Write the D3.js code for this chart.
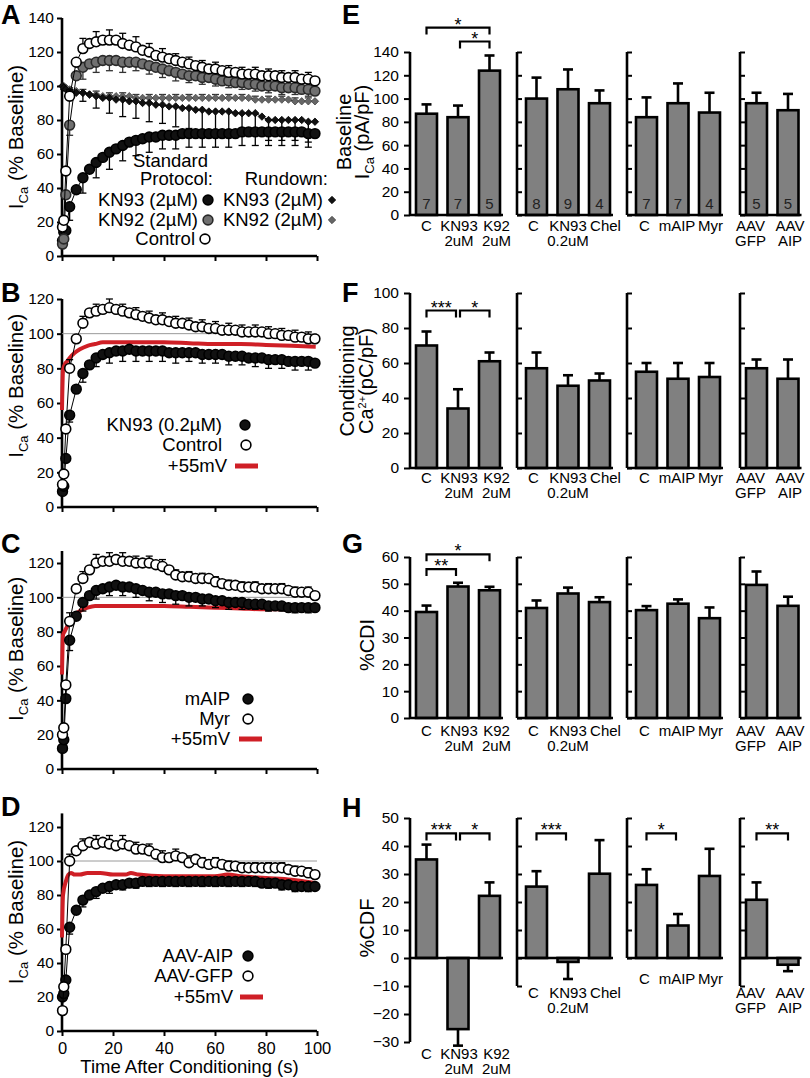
<!DOCTYPE html>
<html><head><meta charset="utf-8">
<script src="https://cdn.jsdelivr.net/npm/d3@7"></script>
<style>body{margin:0;background:#fff}svg text{font-family:"Liberation Sans",Arial,Helvetica,sans-serif}</style>
</head><body><svg id="c" width="810" height="1078"></svg>
<script>
// ---------------- DATA ----------------
const T = [0.2,0.7,1.5,3.0,5.6,8.2,10.8,13.4,16.0,18.6,21.2,23.8,26.4,29.0,31.6,34.2,36.8,39.4,42.0,44.6,47.2,49.8,52.4,55.0,57.6,60.2,62.8,65.4,68.0,70.6,73.2,75.8,78.4,81.0,83.6,86.2,88.8,91.4,94.0,96.6,99.2];
const xTicks = [0,20,40,60,80,100];
const aTicks = [0,20,40,60,80,100,120,140];
const bcdTicks = [0,20,40,60,80,100,120];

// Panel A
const aControl = [17,21,50,94,114,122,125,126,127,127,127,125,124,123,121,120,118,117,116,115,114,113,112,111,110,110,109,108,108,107,107,107,106,106,106,105,105,105,104,104,103];
const aControlErr = [2,2,3,4,5,6,6,6,7,6,7,6,6,6,5,5,5,5,5,4,4,4,4,4,4,4,4,4,4,4,4,4,4,4,4,4,4,4,4,4,4];
const aKN92 = [7,10,36,77,106,111,113,114,115,115,115,114,114,114,113,112,111,110,109,108,107,106,106,105,105,104,103,103,102,102,101,101,100,100,100,99,99,99,98,98,97];
const aKN92Err = [2,2,4,6,7,7,6,6,6,6,6,6,6,5,5,5,5,5,5,5,4,4,4,4,4,4,4,4,4,4,4,4,4,4,4,4,4,4,4,4,4];
const aKN93 = [9,14,15,29,39,46,51,55,58,61,63,65,67,68,69,70,70,71,71,71,72,72,72,72,72,72,72,72,72,73,73,73,73,73,73,73,73,73,73,72,72];
const aKN93Err = [3,4,5,8,9,9,9,9,10,10,10,9,9,9,9,9,9,8,8,8,8,8,8,8,8,8,8,8,8,8,8,8,8,8,8,8,8,8,8,8,8];
const aRunKN93 = [100,99,98,97,96,96,95,94,93,93,92,92,91,91,90,90,89,89,88,88,87,87,86,86,85,85,85,85,84,84,84,84,82,80,80,80,80,80,80,79,79];
const aRunKN93Err = [0,1,2,3,4,5,6,7,8,9,9,10,10,10,11,11,11,11,12,12,12,12,12,12,12,12,12,12,12,12,12,12,12,12,12,12,12,12,12,12,12];
const aRunKN92 = [100,100,99,98,97,96,95,95,94,94,94,94,94,93,93,93,93,93,93,93,93,93,93,93,93,93,93,93,93,93,93,92,92,92,92,92,92,91,91,91,91];
const aRunKN92Err = [0,0,1,1,2,2,2,2,2,2,2,2,2,2,2,2,2,2,2,2,2,2,2,2,2,2,2,2,2,2,2,2,2,2,2,2,2,2,2,2,2];

// Red +55mV traces
const redT = [0,0.4,1,2,3,5,7,10,13,16,20,25,30,40,50,60,70,80,90,99.5];
const bRed = [56,79,82,84,86,89,91,93,94,95,95,95,95,95,94.5,94,94,93.5,93,92.5];
const cRed = [55,78,80,83,86,90,92,94,95,95,95,95,95,95,94.5,94,93.5,93,93,93];
const dRedT = [0,0.4,1.5,2.5,3.5,5,7,10,15,20,25,27,30,40,50,60,65,70,80,90,99.5];
const dRed = [55,80,88,92,93,92,92,93,93,92,92,93,92,91,91,91,92,91,90,89,87];

// Panel B
const bControl = [13,19,45,80,97,106,112,113,114,115,114,113,112,111,110,109,108,108,107,106,106,105,104,104,103,103,102,102,102,101,101,101,101,100,100,99,99,98,98,97,97];
const bControlErr = [2,2,3,5,5,4,4,4,5,5,4,4,4,4,4,4,4,4,4,4,4,4,4,4,4,4,4,4,4,4,4,4,4,4,4,4,4,4,4,4,3];
const bKN93 = [9,12,28,53,68,77,82,86,88,89,90,90,91,90,90,90,90,90,89,89,89,89,89,88,88,88,88,87,87,87,86,86,86,85,85,85,84,84,84,84,83];
const bKN93Err = [1,2,3,4,5,5,5,5,6,6,6,6,6,6,6,6,6,6,6,6,6,5,5,5,5,5,5,5,5,5,5,5,5,5,5,5,5,5,5,5,4];

// Panel C
const cMyr = [20,24,49,86,105,111,116,120,121,121,122,121,121,120,120,120,119,118,116,113,112,112,111,111,111,109,108,107,107,106,106,106,105,105,105,105,104,103,103,103,101];
const cMyrErr = [2,2,3,5,5,4,4,5,5,5,5,5,5,4,4,4,4,4,4,3,3,3,3,3,3,3,3,3,3,3,3,3,3,3,3,3,3,3,3,3,3];
const cMAIP = [12,17,41,75,89,97,101,104,105,106,107,106,106,105,104,103,103,102,102,101,101,100,100,99,99,98,98,97,97,97,96,96,96,95,95,95,94,94,94,94,94];
const cMAIPErr = [2,3,4,6,6,5,5,5,5,5,5,5,5,5,5,5,5,5,5,5,5,5,4,4,4,4,4,4,4,4,3,3,3,3,3,3,3,3,3,3,3];

// Panel D
const dGFP = [12,26,48,100,106,109,111,110,111,110,109,110,109,107,107,106,104,102,102,103,102,99,101,99,98,99,98,97,97,96,96,96,96,96,96,96,95,94,94,93,92];
const dGFPErr = [2,2,3,4,4,4,5,5,5,5,5,5,5,4,4,4,4,4,4,4,4,4,3,3,3,3,3,3,3,3,3,3,3,3,3,3,3,3,3,3,3];
const dAIP = [20,22,30,61,71,77,80,82,84,85,86,86,87,87,88,88,88,88,88,88,88,88,88,88,88,88,88,88,88,88,88,88,87,87,87,86,86,85,85,85,85];
const dAIPErr = [2,2,3,4,4,4,4,4,4,4,3,3,3,3,3,3,3,3,3,3,3,3,3,3,3,3,3,3,3,3,3,3,3,3,3,3,3,3,3,3,4];

// Bar panels
const barCats = [[["C"],["KN93","2uM"],["K92","2uM"]],[["C"],["KN93","0.2uM"],["Chel"]],[["C"],["mAIP"],["Myr"]],[["AAV","GFP"],["AAV","AIP"]]];
const eMean = [[87,84,124],[100,108,96],[84,96,88],[96,90]];
const eErr  = [[8,10,13],[18,17,11],[17,17,17],[9,14]];
const eN    = [[7,7,5],[8,9,4],[7,7,4],[5,5]];
const fMean = [[70,34,61],[57,47,50],[55,51,52],[57,51]];
const fErr  = [[8,11,5],[9,6,4],[5,9,8],[5,11]];
const gMean = [[39.5,49,47.6],[41,46.4,43.2],[40.2,42.6,37.2],[49.6,41.8]];
const gErr  = [[2.4,1.4,1.3],[2.8,2.2,1.8],[1.5,1.6,4],[5,3.4]];
const hMean = [[35.2,-25.4,22.2],[25.5,-1.4,30.1],[26.1,11.6,29.3],[20.8,-2.4]];
const hErr  = [[5.3,5.9,4.8],[5.5,6.1,12],[5.6,4.1,9.7],[6.2,2.3]];
const eTicks = [0,20,40,60,80,100,120,140];
const fTicks = [0,20,40,60,80,100];
const gTicks = [0,10,20,30,40,50,60];
const hTicks = [-30,-20,-10,0,10,20,30,40,50];
const hAxisMin = [-30,-10,0,-10];
const eSig = [{s:0,a:0,b:2,v:161,t:"*"},{s:0,a:1,b:2,v:149,t:"*"}];
const fSig = [{s:0,a:0,b:1,v:90,t:"***"},{s:0,a:1,b:2,v:90,t:"*"}];
const gSig = [{s:0,a:0,b:2,v:61,t:"*"},{s:0,a:0,b:1,v:55.5,t:"**"}];
const hSig = [{s:0,a:0,b:1,v:44.5,t:"***"},{s:0,a:1,b:2,v:44.5,t:"*"},{s:1,a:0,b:1,v:44.5,t:"***"},{s:2,a:0,b:1,v:44.5,t:"*"},{s:3,a:0,b:1,v:44.5,t:"**"}];

// ---------------- DRAW ----------------
const svg = d3.select("#c");
const RED = "#cf1f26", GRAYF = "#707070", BARF = "#808080";
svg.append("rect").attr("width",810).attr("height",1078).attr("fill","#fff");
const x = d3.scaleLinear().domain([0,100]).range([62,317]);

function letter(t, lx, ly){ svg.append("text").attr("x",lx).attr("y",ly).attr("font-size",27).attr("font-weight","bold").text(t); }

function marker(g, type, cx, cy){
  if (type==="open"||type==="black"||type==="gray"){
    g.append("circle").attr("cx",cx).attr("cy",cy).attr("r",4.9)
      .attr("fill", type==="open"?"#fff":type==="black"?"#111":GRAYF)
      .attr("stroke", type==="gray"?"#2a2a2a":"#000").attr("stroke-width",1.6);
  } else {
    const r = 3.7;
    g.append("path").attr("d",`M${cx},${cy-r}L${cx+r},${cy}L${cx},${cy+r}L${cx-r},${cy}Z`)
      .attr("fill", type==="dblack"?"#111":"#666").attr("stroke", type==="dblack"?"#000":"#444").attr("stroke-width",0.8);
  }
}

function drawSeries(g, y, s){
  const pts = s.t.map((t,i)=>[t,s.v[i],s.e[i]]);
  g.append("path").datum(pts).attr("d", d3.line().x(d=>x(d[0])).y(d=>y(d[1])))
    .attr("fill","none").attr("stroke","#000").attr("stroke-width",1);
  const eg = g.append("g").attr("stroke", s.type==="gray"||s.type==="dgray"?"#333":"#000").attr("stroke-width",1.3);
  pts.forEach((d,i)=>{
    if (i%2!==1 || !d[2]) return;
    const y1 = y(d[1]), y2 = y(d[1] + s.dir*d[2]), cx = x(d[0]);
    eg.append("line").attr("x1",cx).attr("x2",cx).attr("y1",y1).attr("y2",y2);
    eg.append("line").attr("x1",cx-3.5).attr("x2",cx+3.5).attr("y1",y2).attr("y2",y2);
  });
  const mg = g.append("g");
  pts.forEach(d=>marker(mg, s.type, x(d[0]), y(d[1])));
}

function timePanel(cfg){
  const y = d3.scaleLinear().domain([0,cfg.ymax]).range([cfg.y0, cfg.yTop]);
  const g = svg.append("g");
  const ya = g.append("g").attr("transform",`translate(${x(0)},0)`)
    .call(d3.axisLeft(y).tickValues(cfg.ticks).tickSize(5).tickPadding(3).tickSizeOuter(0));
  ya.select(".domain").remove();
  ya.selectAll(".tick line").attr("stroke-width",2);
  ya.selectAll(".tick text").attr("font-size",15.5).attr("fill","#000");
  ya.append("line").attr("y1",y(0)).attr("y2",y(cfg.axisTop)).attr("stroke","#000").attr("stroke-width",2.6);
  const xAxis = d3.axisBottom(x).tickValues(xTicks).tickSize(5).tickPadding(6).tickSizeOuter(0);
  if (!cfg.xlabels) xAxis.tickFormat(()=>"");
  const xa = g.append("g").attr("transform",`translate(0,${y(0)})`).call(xAxis);
  xa.select(".domain").remove();
  xa.selectAll(".tick line").attr("stroke-width",2);
  if (cfg.xlabels) xa.selectAll(".tick text").attr("font-size",16.5).attr("fill","#000");
  else xa.selectAll(".tick text").remove();
  xa.append("line").attr("x1",x(0)).attr("x2",x(100)).attr("stroke","#000").attr("stroke-width",2.6);
  if (cfg.xlabels) g.append("text").attr("x",(x(0)+x(100))/2).attr("y",y(0)+42).attr("text-anchor","middle").attr("font-size",18.5).text("Time After Conditioning (s)");
  const t = g.append("text").attr("transform",`translate(23,${y(70)}) rotate(-90)`).attr("text-anchor","middle").attr("font-size",20.5);
  t.append("tspan").text("I");
  t.append("tspan").attr("font-size",13).attr("dy",5).text("Ca");
  t.append("tspan").attr("dy",-5).text(" (% Baseline)");
  if (cfg.ref) g.append("line").attr("x1",x(0)).attr("x2",x(100)).attr("y1",y(100)).attr("y2",y(100)).attr("stroke","#9a9a9a").attr("stroke-width",1);
  if (cfg.red) g.append("path").datum(cfg.red.t.map((tt,i)=>[tt,cfg.red.v[i]]))
    .attr("d", d3.line().x(d=>x(d[0])).y(d=>y(d[1])).curve(d3.curveMonotoneX))
    .attr("fill","none").attr("stroke",RED).attr("stroke-width",4);
  cfg.series.forEach(s=>drawSeries(g,y,s));
  cfg.legend.forEach(l=>{
    g.append("text").attr("x",l.x).attr("y",l.y+6.5).attr("text-anchor","end").attr("font-size",18.5).text(l.text);
    if (l.type==="red") g.append("line").attr("x1",l.mx-11).attr("x2",l.mx+12).attr("y1",l.y+1).attr("y2",l.y+1).attr("stroke",RED).attr("stroke-width",5);
    else if (l.type) marker(g, l.type, l.mx, l.y+1);
  });
}

timePanel({ymax:140, y0:256, yTop:18, axisTop:140, ticks:aTicks, series:[
  {t:T,v:aRunKN92,e:aRunKN92Err,dir:1,type:"dgray"},
  {t:T,v:aRunKN93,e:aRunKN93Err,dir:-1,type:"dblack"},
  {t:T,v:aKN93,e:aKN93Err,dir:-1,type:"black"},
  {t:T,v:aKN92,e:aKN92Err,dir:-1,type:"gray"},
  {t:T,v:aControl,e:aControlErr,dir:1,type:"open"}],
  legend:[
   {text:"Standard",x:208,y:160},{text:"Protocol:",x:213,y:178},
   {text:"KN93 (2µM)",x:198,y:199,type:"black",mx:208},
   {text:"KN92 (2µM)",x:198,y:219,type:"gray",mx:208},
   {text:"Control",x:195,y:238,type:"open",mx:205},
   {text:"Rundown:",x:328,y:178},
   {text:"KN93 (2µM)",x:323,y:199,type:"dblack",mx:332},
   {text:"KN92 (2µM)",x:323,y:219,type:"dgray",mx:332}]});
timePanel({ymax:120, y0:507, yTop:299, axisTop:120, ticks:bcdTicks, ref:true, red:{t:redT,v:bRed}, series:[
  {t:T,v:bKN93,e:bKN93Err,dir:-1,type:"black"},
  {t:T,v:bControl,e:bControlErr,dir:1,type:"open"}],
  legend:[{text:"KN93 (0.2µM)",x:222,y:424,type:"black",mx:245},
          {text:"Control",x:222,y:444,type:"open",mx:246},
          {text:"+55mV",x:227,y:465,type:"red",mx:246}]});
timePanel({ymax:120, y0:769, yTop:563, axisTop:127, ticks:bcdTicks, ref:true, red:{t:redT,v:cRed}, series:[
  {t:T,v:cMAIP,e:cMAIPErr,dir:-1,type:"black"},
  {t:T,v:cMyr,e:cMyrErr,dir:1,type:"open"}],
  legend:[{text:"mAIP",x:230,y:698,type:"black",mx:248},
          {text:"Myr",x:230,y:718,type:"open",mx:248},
          {text:"+55mV",x:230,y:738,type:"red",mx:250}]});
timePanel({ymax:120, y0:1031, yTop:827, axisTop:128, ticks:bcdTicks, ref:true, xlabels:true, red:{t:dRedT,v:dRed}, series:[
  {t:T,v:dAIP,e:dAIPErr,dir:-1,type:"black"},
  {t:T,v:dGFP,e:dGFPErr,dir:1,type:"open"}],
  legend:[{text:"AAV-AIP",x:233,y:955,type:"black",mx:248},
          {text:"AAV-GFP",x:233,y:975,type:"open",mx:248},
          {text:"+55mV",x:233,y:996,type:"red",mx:251}]});

letter("A",1,24); letter("B",1,302); letter("C",1,553); letter("D",1,816);
letter("E",342,24); letter("F",342,302); letter("G",342,553); letter("H",342,817);

// ---- bar rows ----
const subAxisX = [410,517,627,740];
const subOff = [0.75,3.75,3.75,0.75];
const labelDx = [[0,1,7],[-3,0,6],[-2,-1,1],[-6,2]];

function barRow(cfg){
  const y = d3.scaleLinear().domain(cfg.domain).range(cfg.range);
  const g = svg.append("g");
  cfg.mean.forEach((vals, si)=>{
    const ax = subAxisX[si], n = vals.length;
    const xb = d3.scaleBand().domain(d3.range(n)).range([ax+subOff[si], ax+subOff[si]+n*31.5]).paddingInner(1/3).paddingOuter(1/6);
    const bw = xb.bandwidth(), cx = i=>xb(i)+bw/2;
    const amin = cfg.axisMin ? cfg.axisMin[si] : cfg.domain[0];
    const amax = cfg.domain[1];
    const tv = cfg.ticks.filter(v=>v>=amin && v<=amax);
    const axis = si===0 ? d3.axisLeft(y).tickValues(tv).tickSize(6).tickPadding(5).tickSizeOuter(0)
                        : d3.axisRight(y).tickValues(tv).tickSize(5).tickFormat(()=>"").tickSizeOuter(0);
    const ag = g.append("g").attr("transform",`translate(${ax},0)`).call(axis);
    ag.select(".domain").remove();
    ag.selectAll(".tick line").attr("stroke-width",2);
    if (si===0) ag.selectAll(".tick text").attr("font-size",15.5).attr("fill","#000");
    else ag.selectAll(".tick text").remove();
    ag.append("line").attr("y1",y(amin)).attr("y2",y(amax)).attr("stroke","#000").attr("stroke-width",2.6);
    vals.forEach((v,i)=>{
      const e = cfg.err[si][i], dir = v>=0?1:-1;
      const y1 = y(v), y2 = y(v+dir*e);
      g.append("line").attr("x1",cx(i)).attr("x2",cx(i)).attr("y1",y1).attr("y2",y2).attr("stroke","#000").attr("stroke-width",2.6);
      g.append("line").attr("x1",cx(i)-5).attr("x2",cx(i)+5).attr("y1",y2).attr("y2",y2).attr("stroke","#000").attr("stroke-width",2.6);
    });
    g.selectAll(null).data(vals).join("rect")
      .attr("x",(d,i)=>xb(i)).attr("width",bw)
      .attr("y",d=>Math.min(y(d),y(0))).attr("height",d=>Math.abs(y(d)-y(0)))
      .attr("fill",BARF).attr("stroke","#000").attr("stroke-width",2.6);
    g.append("line").attr("x1",ax).attr("x2",xb(n-1)+bw+3).attr("y1",y(0)).attr("y2",y(0)).attr("stroke","#000").attr("stroke-width",2.6);
    if (cfg.n) cfg.n[si].forEach((nn,i)=>g.append("text").attr("x",cx(i)).attr("y",y(0)-6).attr("text-anchor","middle").attr("font-size",15).attr("fill","#222").text(nn));
    barCats[si].forEach((lines,i)=>{
      const lx = cx(i)+labelDx[si][i];
      const tx = g.append("text").attr("x",lx).attr("y",cfg.labelY[si]).attr("text-anchor","middle").attr("font-size",15);
      lines.forEach((ln,j)=>tx.append("tspan").attr("x",lx).attr("dy",j===0?0:14.5).text(ln));
    });
    cfg.sig.filter(s=>s.s===si).forEach(s=>{
      const x1 = cx(s.a)+(s.a>0?2:0), x2 = cx(s.b)-(s.b<n-1?2:0), yb = y(s.v);
      g.append("path").attr("d",`M${x1},${yb+7}V${yb}H${x2}V${yb+7}`).attr("fill","none").attr("stroke","#000").attr("stroke-width",2.2);
      g.append("text").attr("x",(x1+x2)/2).attr("y",yb+3).attr("text-anchor","middle").attr("font-size",18).text(s.t);
    });
  });
  cfg.ylabel(g);
}

function rotText(g, tx, ty, parts, size){
  const t = g.append("text").attr("transform",`translate(${tx},${ty}) rotate(-90)`).attr("text-anchor","middle").attr("font-size",size||20);
  parts.forEach(p=>{ const s=t.append("tspan").text(p.t); if(p.fs) s.attr("font-size",p.fs); if(p.dy) s.attr("dy",p.dy); });
}

barRow({domain:[0,140], range:[215,52], ticks:eTicks, mean:eMean, err:eErr, n:eN, sig:eSig, labelY:[231,231,231,231],
  ylabel:g=>{ rotText(g,351,132,[{t:"Baseline"}]);
              rotText(g,369,132,[{t:"I"},{t:"Ca",fs:13,dy:5},{t:" (pA/pF)",dy:-5}]); }});
barRow({domain:[0,100], range:[468,293], ticks:fTicks, mean:fMean, err:fErr, sig:fSig, labelY:[483,483,483,483],
  ylabel:g=>{ rotText(g,354,381,[{t:"Conditioning"}]);
              rotText(g,373,381,[{t:"Ca"},{t:"2+",fs:11,dy:-7},{t:"(pC/pF)",dy:7}]); }});
barRow({domain:[0,60], range:[718,557], ticks:gTicks, mean:gMean, err:gErr, sig:gSig, labelY:[736,736,736,736],
  ylabel:g=>{ rotText(g,374,645,[{t:"%CDI"}]); }});
barRow({domain:[-30,50], range:[1042,818], ticks:hTicks, axisMin:hAxisMin, mean:hMean, err:hErr, sig:hSig, labelY:[1059,998,984,998],
  ylabel:g=>{ rotText(g,374,928,[{t:"%CDF"}]); }});
</script></body></html>
